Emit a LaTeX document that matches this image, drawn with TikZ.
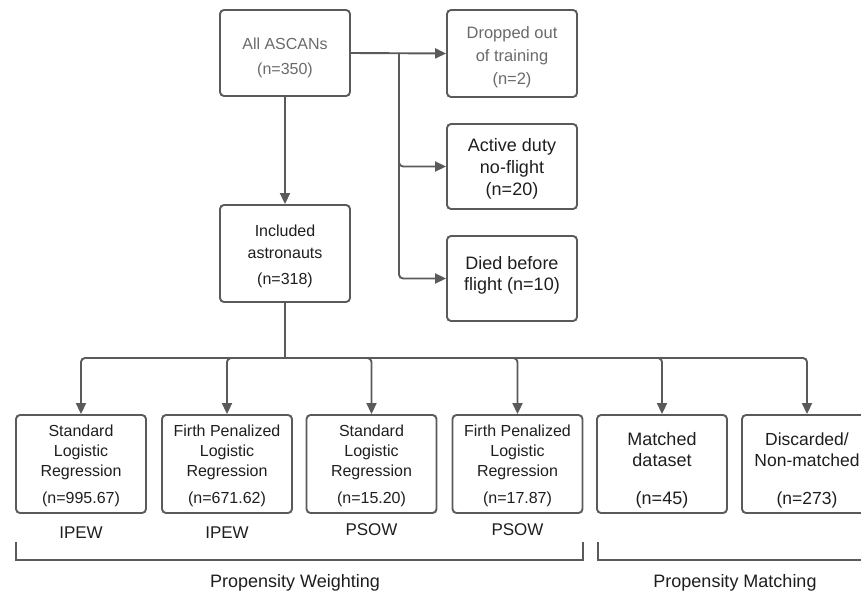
\documentclass[tikz,border=0pt]{standalone}
\usepackage{fontspec}
\setmainfont{Liberation Sans}
\usetikzlibrary{arrows.meta}
\definecolor{ln}{HTML}{5A5A5A}
\definecolor{tx}{HTML}{1E1E1E}
\definecolor{lt}{HTML}{6A6A6A}
\newcommand{\up}[1]{\rule{0pt}{#1}}
\begin{document}
\begin{tikzpicture}[x=1pt,y=-1pt,
  box/.style={draw=ln, line width=1.9pt, rounded corners=4pt, minimum width=130pt,
    align=center, font=\fontsize{16}{20}\selectfont, text=tx, inner sep=0pt},
  arr/.style={draw=ln, line width=1.9pt, -{Triangle[length=11pt,width=10pt]}, rounded corners=4pt},
  lnk/.style={draw=ln, line width=1.9pt},
  lbl/.style={font=\fontsize{17}{20}\selectfont, text=tx, inner sep=0pt}
]
\useasboundingbox (0,0) rectangle (861,594);

% top boxes
\node[box, minimum height=86pt, text=lt, font=\fontsize{16}{25}\selectfont] (all) at (285,53) {\up{22pt}All ASCANs\\(n=350)};
\node[box, minimum height=87pt, text=lt, font=\fontsize{16.5}{23}\selectfont] (drop) at (512,53.5) {\up{19pt}Dropped out\\of training\\(n=2)};
\node[box, minimum height=85pt, font=\fontsize{18}{22}\selectfont] (active) at (512,166.5) {\up{17pt}Active duty\\no-flight\\(n=20)};
\node[box, minimum height=85pt, font=\fontsize{18}{21}\selectfont] (died) at (512,278.5) {Died before\\flight (n=10)\\[-11pt]\mbox{}};
\node[box, minimum height=97pt, font=\fontsize{16}{22}\selectfont] (incl) at (285,253.5) {\up{18pt}Included\\astronauts\\[4pt](n=318)};

% bottom boxes
\node[box, minimum height=98pt] (b1) at (81,464) {\up{16pt}Standard\\Logistic\\Regression\\[7pt](n=995.67)};
\node[box, minimum height=98pt] (b2) at (227,464) {\up{16pt}Firth Penalized\\Logistic\\Regression\\[7pt](n=671.62)};
\node[box, minimum height=98pt] (b3) at (371.5,464) {\up{16pt}Standard\\Logistic\\Regression\\[7pt](n=15.20)};
\node[box, minimum height=98pt] (b4) at (517.5,464) {\up{16pt}Firth Penalized\\Logistic\\Regression\\[7pt](n=17.87)};
\node[box, minimum height=98pt, font=\fontsize{18}{21}\selectfont] (b5) at (662,464) {\up{25pt}Matched\\dataset\\[17pt](n=45)};
\node[box, minimum height=98pt, font=\fontsize{17.5}{21}\selectfont] (b6) at (807,464) {\up{25pt}Discarded/\\Non-matched\\[17pt](n=273)};

% connectors top
\draw[arr] (all) -- (incl);
\draw[arr] (all.east) -- (drop.west);
\coordinate (br) at (399,53);
\draw[arr] (br) |- (active.west);
\draw[arr] (br) |- (died.west);

% connectors bottom
\coordinate (hb) at (285,358);
\draw[lnk] (incl.south) -- (hb);
\foreach \b in {b1,b2,b3,b4,b5,b6}{
  \draw[arr] (hb) -| (\b.north);
}

% method labels
\node[lbl] (l1) at (81,533) {IPEW};
\node[lbl] (l2) at (227,533) {IPEW};
\node[lbl] (l3) at (371.5,530) {PSOW};
\node[lbl] (l4) at (517.5,530) {PSOW};

% brackets
\draw[lnk] (16,542) -- (16,560) -- (583,560) -- (583,542);
\draw[lnk] (598,542) -- (598,560) -- (875,560);
\node[lbl, font=\fontsize{18}{20}\selectfont] (pw) at (295,583) {Propensity Weighting};
\node[lbl, font=\fontsize{18}{20}\selectfont] (pm) at (735,583) {Propensity Matching};
\end{tikzpicture}
\end{document}
